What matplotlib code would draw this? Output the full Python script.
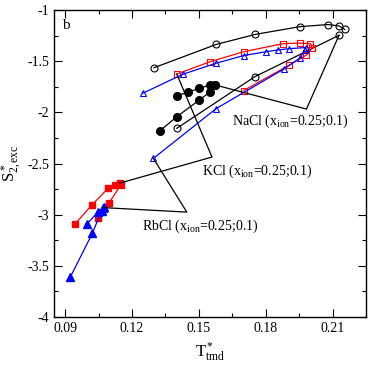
import matplotlib
matplotlib.use('Agg')
import matplotlib.pyplot as plt
from matplotlib.ticker import MultipleLocator

plt.rcParams['font.family'] = ['Liberation Serif', 'DejaVu Serif']
plt.rcParams['mathtext.fontset'] = 'custom'
plt.rcParams['mathtext.rm'] = 'Liberation Serif'
plt.rcParams['mathtext.it'] = 'Liberation Serif:italic'

# NaCl (black circles)
nacl_open_up_x = [0.1299, 0.1577, 0.1754, 0.1953, 0.2079, 0.2129, 0.2154]
nacl_open_up_y = [-1.564, -1.337, -1.238, -1.163, -1.142, -1.156, -1.189]
nacl_open_lo_x = [0.1401, 0.1751, 0.2129]
nacl_open_lo_y = [-2.156, -1.652, -1.247]
nacl_fill_up_x = [0.1401, 0.1451, 0.1502, 0.1551, 0.1574]
nacl_fill_up_y = [-1.838, -1.804, -1.765, -1.733, -1.733]
nacl_fill_lo_x = [0.1324, 0.1401, 0.1502, 0.1551, 0.1574]
nacl_fill_lo_y = [-2.183, -2.043, -1.880, -1.799, -1.733]

# KCl (red squares)
kcl_open_up_x = [0.1401, 0.1551, 0.1701, 0.1877, 0.1952, 0.2001, 0.2008]
kcl_open_up_y = [-1.626, -1.505, -1.408, -1.329, -1.323, -1.329, -1.371]
kcl_open_lo_x = [0.1701, 0.1904, 0.1983, 0.2008]
kcl_open_lo_y = [-1.787, -1.541, -1.440, -1.371]
kcl_fill_a_x = [0.0946, 0.1022, 0.1094, 0.1124, 0.1146]
kcl_fill_a_y = [-3.087, -2.901, -2.740, -2.711, -2.691]
kcl_fill_b_x = [0.1049, 0.1098, 0.1151]
kcl_fill_b_y = [-3.030, -2.882, -2.706]

# RbCl (blue triangles)
rbcl_open_up_x = [0.1248, 0.1427, 0.1576, 0.1701, 0.1802, 0.1853, 0.1904, 0.1980]
rbcl_open_up_y = [-1.814, -1.629, -1.521, -1.445, -1.408, -1.391, -1.378, -1.367]
rbcl_open_lo_x = [0.1296, 0.1578, 0.1880, 0.1955, 0.1976]
rbcl_open_lo_y = [-2.450, -1.963, -1.579, -1.467, -1.386]
rbcl_fill_a_x = [0.0924, 0.1022, 0.1064, 0.1074]
rbcl_fill_a_y = [-3.607, -3.183, -2.960, -2.926]
rbcl_fill_b_x = [0.0996, 0.1049, 0.1071]
rbcl_fill_b_y = [-3.095, -2.970, -2.931]

# annotation pointer lines
nacl_ptr_x = [0.2129, 0.1983, 0.1574]
nacl_ptr_y = [-1.247, -1.968, -1.733]
kcl_ptr_x = [0.1401, 0.1559, 0.1146]
kcl_ptr_y = [-1.626, -2.437, -2.691]
rbcl_ptr_x = [0.1296, 0.1446, 0.1071]
rbcl_ptr_y = [-2.450, -2.975, -2.931]

fig = plt.figure(figsize=(3.68, 3.65), dpi=100)
ax = fig.add_axes([0.1467, 0.1315, 0.8478, 0.8411])

lw = 0.9
ms = 5
ax.plot(nacl_open_up_x, nacl_open_up_y, '-o', color='black', mfc='none', ms=ms, lw=lw, mew=0.8)
ax.plot(nacl_open_lo_x, nacl_open_lo_y, '-o', color='black', mfc='none', ms=ms, lw=lw, mew=0.8)
ax.plot(nacl_fill_up_x, nacl_fill_up_y, '-o', color='black', ms=5.5, lw=lw)
ax.plot(nacl_fill_lo_x, nacl_fill_lo_y, '-o', color='black', ms=5.5, lw=lw)

ax.plot(kcl_open_up_x, kcl_open_up_y, '-s', color='red', mfc='none', ms=ms, lw=lw, mew=0.8)
ax.plot(kcl_open_lo_x, kcl_open_lo_y, '-s', color='red', mfc='none', ms=ms, lw=lw, mew=0.8)
ax.plot(kcl_fill_a_x, kcl_fill_a_y, '-s', color='red', ms=5, lw=lw)
ax.plot(kcl_fill_b_x, kcl_fill_b_y, '-s', color='red', ms=5, lw=lw)

ax.plot(rbcl_open_up_x, rbcl_open_up_y, '-^', color='blue', mfc='none', ms=ms, lw=lw, mew=0.8)
ax.plot(rbcl_open_lo_x, rbcl_open_lo_y, '-^', color='blue', mfc='none', ms=ms, lw=lw, mew=0.8)
ax.plot(rbcl_fill_a_x, rbcl_fill_a_y, '-^', color='blue', ms=5.5, lw=lw)
ax.plot(rbcl_fill_b_x, rbcl_fill_b_y, '-^', color='blue', ms=5.5, lw=lw)

for px, py in [(nacl_ptr_x, nacl_ptr_y), (kcl_ptr_x, kcl_ptr_y), (rbcl_ptr_x, rbcl_ptr_y)]:
    ax.plot(px, py, color='black', lw=0.9)

ax.text(0.1649, -2.092, r'NaCl (x$_{\mathrm{ion}}$=0.25;0.1)', fontsize=10, va='center')
ax.text(0.1514, -2.581, r'KCl (x$_{\mathrm{ion}}$=0.25;0.1)', fontsize=10, va='center')
ax.text(0.1244, -3.118, r'RbCl (x$_{\mathrm{ion}}$=0.25;0.1)', fontsize=10, va='center')
ax.text(0.025, 0.95, 'b', transform=ax.transAxes, fontsize=11, va='center')

ax.set_xlim(0.085, 0.225)
ax.set_ylim(-4, -1)
ax.xaxis.set_minor_locator(MultipleLocator(0.015))
ax.yaxis.set_minor_locator(MultipleLocator(0.25))
ax.set_xticks([0.09, 0.12, 0.15, 0.18, 0.21])
ax.set_xticklabels(['0.09', '0.12', '0.15', '0.18', '0.21'])
ax.set_yticks([-4, -3.5, -3, -2.5, -2, -1.5, -1])
ax.set_yticklabels(['-4', '-3.5', '-3', '-2.5', '-2', '-1.5', '-1'])
ax.tick_params(which='both', direction='in', top=True, right=True, labelsize=10, width=0.8)
ax.tick_params(which='major', length=6)
ax.tick_params(which='minor', length=3)
for s in ax.spines.values():
    s.set_linewidth(1.0)

ax.set_xlabel(r'$\mathrm{T^*_{tmd}}$', fontsize=12)
ax.set_ylabel(r'$\mathrm{S^*_{2,exc}}$', fontsize=12)
ax.xaxis.set_label_coords(0.5, -0.075)
ax.yaxis.set_label_coords(-0.095, 0.5)

fig.savefig('out.png', dpi=100)
